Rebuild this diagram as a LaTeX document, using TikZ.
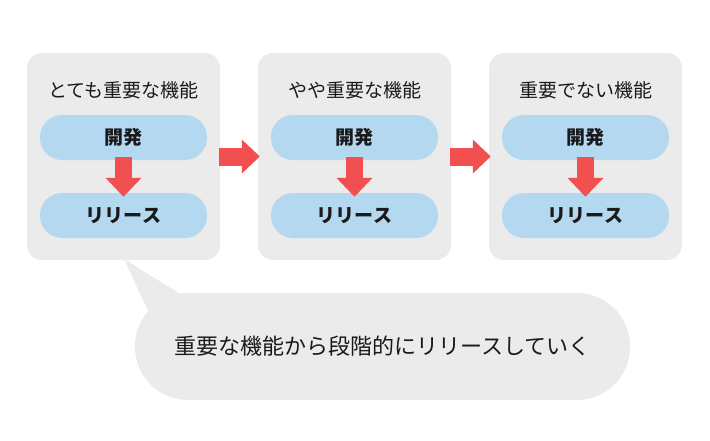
\documentclass[tikz,border=0pt]{standalone}
\usepackage{fontspec}
\newfontfamily\jp{Noto Sans CJK JP}
\usetikzlibrary{arrows.meta,calc}
\definecolor{panelgray}{HTML}{EBEBEB}
\definecolor{boxblue}{HTML}{B3D8EF}
\definecolor{arrowred}{HTML}{F25050}
\definecolor{ink}{HTML}{1A1A1A}
\begin{document}
\begin{tikzpicture}[x=1pt,y=-1pt,
  panel/.style={fill=panelgray, rounded corners=15pt, minimum width=193pt, minimum height=207pt, inner sep=0pt},
  title/.style={font=\jp\fontsize{19}{22}\selectfont, text=ink, inner sep=0pt},
  stage/.style={fill=boxblue, rounded corners=22pt, minimum width=167pt, minimum height=45pt, inner sep=0pt, font=\jp\bfseries\fontsize{19}{22}\selectfont, text=ink},
  downarrow/.style={draw=arrowred, line width=17pt, -{Triangle[width=35pt,length=19pt]}},
  rightarrow/.style={draw=arrowred, line width=18pt, -{Triangle[width=33pt,length=18pt]}},
  bubble/.style={fill=panelgray, rounded corners=53pt, minimum width=495pt, minimum height=107pt, inner sep=0pt, font=\jp\fontsize{22}{26}\selectfont, text=ink}]
\useasboundingbox (0,0) rectangle (710,440);
% panels
\node[panel] (p1) at (123.5,156.5) {};
\node[panel] (p2) at (354.5,156.5) {};
\node[panel] (p3) at (585.5,156.5) {};
% titles
\node[title] (t1) at (123.5,90) {とても重要な機能};
\node[title] (t2) at (354.5,90) {やや重要な機能};
\node[title] (t3) at (585.5,90) {重要でない機能};
% stages
\node[stage] (d1) at (123.5,137.5) {開発};
\node[stage] (r1) at (123.5,215.5) {リリース};
\node[stage] (d2) at (354.5,137.5) {開発};
\node[stage] (r2) at (354.5,215.5) {リリース};
\node[stage] (d3) at (585.5,137.5) {開発};
\node[stage] (r3) at (585.5,215.5) {リリース};
% down arrows
\draw[downarrow] ([yshift=3pt]d1.south) -- ([yshift=-4pt]r1.north);
\draw[downarrow] ([yshift=3pt]d2.south) -- ([yshift=-4pt]r2.north);
\draw[downarrow] ([yshift=3pt]d3.south) -- ([yshift=-4pt]r3.north);
% right arrows
\draw[rightarrow] ([xshift=-1pt]p1.east) -- ([xshift=2pt]p2.west);
\draw[rightarrow] ([xshift=-1pt]p2.east) -- ([xshift=2pt]p3.west);
% speech bubble
\coordinate (tip) at (124,259);
\fill[panelgray] (tip) -- (150,315) -- (182,295) -- cycle;
\node[bubble] (bub) at (382.5,346.5) {重要な機能から段階的にリリースしていく};
\end{tikzpicture}
\end{document}
